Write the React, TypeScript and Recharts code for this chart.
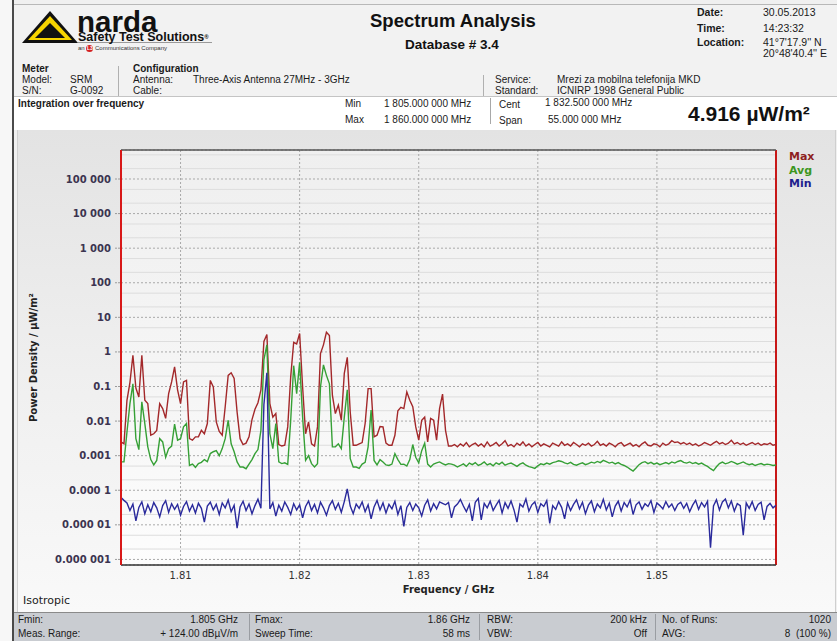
import React from 'react';
import { LineChart, Line, XAxis, YAxis, CartesianGrid, ReferenceLine, Label } from 'recharts';

// Sweep grid (GHz)
const FREQ_START = 1.805;
const FREQ_STEP = 0.00025;

// Power density, µW/m²
const maxValues = [
  0.0025, 0.0022, 0.04, 0.13, 0.8, 0.09, 0.05, 0.8, 0.04, 0.032,
  0.0039, 0.0043, 0.0054, 0.032, 0.023, 0.012, 0.062, 0.136, 0.37, 0.08,
  0.032, 0.136, 0.15, 0.0031, 0.0028, 0.0035, 0.0035, 0.0054, 0.0043, 0.0085,
  0.15, 0.097, 0.0095, 0.005, 0.0039, 0.026, 0.21, 0.25, 0.17, 0.018,
  0.0031, 0.0021, 0.0023, 0.0035, 0.011, 0.022, 0.034, 0.08, 2.0, 3.2,
  0.032, 0.013, 0.0165, 0.0021, 0.0019, 0.002, 0.0068, 0.19, 1.9, 1.7,
  3.4, 0.097, 0.0043, 0.0095, 0.0022, 0.0019, 0.0068, 0.9, 1.6, 3.7,
  3.0, 0.056, 0.0165, 0.029, 0.0106, 0.24, 0.7, 0.018, 0.002, 0.002,
  0.0022, 0.0024, 0.0085, 0.087, 0.087, 0.0035, 0.0039, 0.007, 0.0068, 0.0023,
  0.002, 0.002, 0.0039, 0.02, 0.025, 0.023, 0.07, 0.04, 0.026, 0.0068,
  0.0028, 0.0106, 0.013, 0.0025, 0.012, 0.0106, 0.0028, 0.023, 0.06, 0.0054,
  0.0019,
  0.0019, 0.0021, 0.0018, 0.0022, 0.0019, 0.0024, 0.0018, 0.0021, 0.0023, 0.0019,
  0.0022, 0.0018, 0.0025, 0.0019, 0.0021, 0.0024, 0.0019, 0.0022, 0.0027, 0.0019,
  0.0021, 0.0018, 0.0023, 0.0020, 0.0025, 0.0019, 0.0022, 0.0018, 0.0021, 0.0024,
  0.0019, 0.0022, 0.0020, 0.0018, 0.0023, 0.0021, 0.0019, 0.0025, 0.0020, 0.0022,
  0.0019, 0.0024, 0.0021, 0.0018, 0.0022, 0.0020, 0.0023, 0.0019, 0.0021, 0.0026,
  0.0020, 0.0022, 0.0019, 0.0023, 0.0021, 0.0018, 0.0022, 0.0024, 0.0019, 0.0021,
  0.0023, 0.0019, 0.0021, 0.0018, 0.0022, 0.0025, 0.0020, 0.0019, 0.0022, 0.0021,
  0.0018, 0.0023, 0.0020, 0.0022, 0.0027, 0.0024, 0.0025, 0.0022, 0.0024, 0.0021,
  0.0023, 0.0020, 0.0022, 0.0019, 0.0021, 0.0024, 0.0022, 0.0020, 0.0023, 0.0026,
  0.0022, 0.0024, 0.0021, 0.0023, 0.0028, 0.0022, 0.0024, 0.0021, 0.0023, 0.0020,
  0.0022, 0.0024, 0.0021, 0.0023, 0.0020, 0.0022, 0.0021, 0.0023, 0.0020, 0.0021,
];

const avgValues = [
  0.00066, 0.00066, 0.0048, 0.032, 0.12, 0.0031, 0.0015, 0.036, 0.0085, 0.0018,
  0.00077, 0.00054, 0.00073, 0.0031, 0.0025, 0.0009, 0.0016, 0.0019, 0.0082, 0.0028,
  0.0031, 0.0068, 0.0085, 0.00052, 0.00057, 0.00046, 0.00059, 0.00064, 0.00077, 0.00067,
  0.00115, 0.0013, 0.0014, 0.001, 0.0016, 0.0031, 0.0106, 0.0022, 0.0013, 0.00066,
  0.00047, 0.00047, 0.00042, 0.00057, 0.00077, 0.00115, 0.0015, 0.0054, 0.6, 1.6,
  0.0043, 0.0016, 0.0085, 0.00066, 0.00059, 0.00062, 0.00056, 0.0106, 0.4, 0.062,
  0.5, 0.013, 0.00073, 0.001, 0.00059, 0.00047, 0.00059, 0.097, 0.42, 0.21,
  0.12, 0.0018, 0.0018, 0.0022, 0.0016, 0.013, 0.08, 0.00082, 0.00047, 0.00047,
  0.00043, 0.00057, 0.00064, 0.0018, 0.021, 0.00073, 0.00054, 0.00077, 0.00066, 0.00054,
  0.00052, 0.00057, 0.00115, 0.00077, 0.00056, 0.00057, 0.0005, 0.00077, 0.0021, 0.0009,
  0.00062, 0.0014, 0.0023, 0.00057, 0.00047, 0.00057, 0.00062, 0.00066, 0.00059, 0.00054,
  0.00059, 0.00057, 0.00053, 0.00047,
  0.00052, 0.00058, 0.00049, 0.00061, 0.00055, 0.00063, 0.00052, 0.00057, 0.00066, 0.00054,
  0.00059, 0.00051, 0.00062, 0.00056, 0.00065, 0.00053, 0.00058, 0.00061, 0.00055, 0.00049,
  0.00057, 0.00062, 0.00053, 0.00048, 0.00046, 0.00043, 0.00051, 0.00058, 0.00055, 0.00061,
  0.00057, 0.00063, 0.00066, 0.00071, 0.00068, 0.00062, 0.00058, 0.00064, 0.00056, 0.00053,
  0.00058, 0.00062, 0.00055, 0.00059, 0.00065, 0.00061, 0.00068, 0.00063, 0.00073, 0.00067,
  0.00061, 0.00065, 0.00058, 0.00063, 0.00056, 0.00052, 0.00047, 0.00041, 0.00036, 0.00044,
  0.00055, 0.00063, 0.00067, 0.00059, 0.00064, 0.00057, 0.00061, 0.00055, 0.00059, 0.00063,
  0.00058, 0.00066, 0.00061, 0.00068, 0.00072, 0.00064, 0.00061, 0.00066, 0.00059, 0.00063,
  0.00057, 0.00061, 0.00054, 0.00049, 0.00042, 0.00037, 0.00048, 0.00059, 0.00065, 0.00058,
  0.00062, 0.00068, 0.00063, 0.00057, 0.00061, 0.00066, 0.00059, 0.00055, 0.00058, 0.00052,
  0.00056, 0.00059, 0.00054, 0.00057, 0.00055, 0.00052, 0.00054,
];

const minValues = [
  6.2e-5, 5.1e-5, 4.3e-5, 2.6e-5, 4.0e-5, 1.3e-5, 3.2e-5, 4.6e-5, 2.1e-5, 3.8e-5,
  2.4e-5, 4.4e-5, 3.1e-5, 1.7e-5, 3.6e-5, 5.0e-5, 2.3e-5, 4.1e-5, 2.8e-5, 3.9e-5,
  1.9e-5, 3.4e-5, 4.7e-5, 2.5e-5, 3.8e-5, 2.2e-5, 4.2e-5, 3.0e-5, 1.2e-5, 3.5e-5,
  4.5e-5, 2.7e-5, 3.9e-5, 2.0e-5, 4.3e-5, 3.1e-5, 5.2e-5, 2.4e-5, 3.7e-5, 8.0e-6,
  3.3e-5, 4.8e-5, 2.6e-5, 4.0e-5, 2.1e-5, 3.6e-5, 5.5e-5, 3.0e-5, 0.03, 0.25,
  2.9e-5, 4.4e-5, 1.8e-5, 3.7e-5, 2.5e-5, 4.6e-5, 3.2e-5, 2.0e-5, 4.1e-5, 2.7e-5,
  3.8e-5, 1.6e-5, 3.4e-5, 4.9e-5, 2.6e-5, 3.9e-5, 2.2e-5, 4.5e-5, 3.1e-5, 1.9e-5,
  3.6e-5, 5.0e-5, 2.8e-5, 4.2e-5, 2.3e-5, 4.7e-5, 1.1e-4, 3.5e-5, 2.1e-5, 4.0e-5,
  3.0e-5, 4.6e-5, 2.4e-5, 3.8e-5, 1.5e-5, 3.3e-5, 5.1e-5, 2.7e-5, 4.3e-5, 2.2e-5,
  3.9e-5, 2.9e-5, 4.8e-5, 2.0e-5, 3.6e-5, 9.0e-6, 3.2e-5, 4.4e-5, 2.6e-5, 4.0e-5,
  3.1e-5, 1.8e-5, 3.7e-5, 5.3e-5, 2.5e-5, 4.1e-5, 2.9e-5, 4.6e-5, 4.2e-5, 3.8e-5,
  4.4e-5, 1.6e-5, 3.3e-5, 4.0e-5, 5.4e-5, 3.5e-5, 2.4e-5, 3.9e-5, 1.3e-5, 4.5e-5,
  5.8e-5, 1.4e-5, 4.2e-5, 3.1e-5, 4.8e-5, 2.6e-5, 3.7e-5, 5.1e-5, 2.2e-5, 4.4e-5,
  3.0e-5, 4.9e-5, 2.7e-5, 1.2e-5, 4.0e-5, 3.3e-5, 5.6e-5, 2.5e-5, 3.8e-5, 4.6e-5,
  2.3e-5, 4.1e-5, 3.4e-5, 5.0e-5, 1.1e-5, 3.6e-5, 2.8e-5, 4.7e-5, 3.2e-5, 1.5e-5,
  4.3e-5, 2.6e-5, 3.9e-5, 5.3e-5, 2.9e-5, 4.5e-5, 2.1e-5, 3.7e-5, 4.9e-5, 2.4e-5,
  4.0e-5, 3.1e-5, 5.5e-5, 2.7e-5, 4.2e-5, 1.7e-5, 3.5e-5, 4.8e-5, 2.5e-5, 4.4e-5,
  3.3e-5, 5.2e-5, 2.0e-5, 3.8e-5, 4.6e-5, 2.8e-5, 4.1e-5, 3.4e-5, 5.0e-5, 2.3e-5,
  4.3e-5, 3.6e-5, 2.9e-5, 4.7e-5, 3.2e-5, 4.0e-5, 2.6e-5, 3.9e-5, 4.5e-5, 3.0e-5,
  4.2e-5, 2.4e-5, 3.7e-5, 5.1e-5, 2.8e-5, 4.4e-5, 3.3e-5, 4.8e-5, 2.2e-6, 3.5e-5,
  5.3e-5, 2.7e-5, 4.6e-5, 5.6e-5, 3.1e-5, 4.9e-5, 2.5e-5, 4.1e-5, 3.6e-5, 5.0e-6,
  4.3e-5, 3.0e-5, 4.7e-5, 2.6e-5, 3.9e-5, 4.5e-5, 1.4e-5, 3.4e-5, 4.2e-5, 3.1e-5,
  3.7e-5,
];

const xTicks = [1.81, 1.82, 1.83, 1.84, 1.85];
const xTickLabels = ['1.81', '1.82', '1.83', '1.84', '1.85'];
const yTicks = [1e5, 1e4, 1e3, 100, 10, 1, 0.1, 0.01, 0.001, 1e-4, 1e-5, 1e-6];
const yTickLabels = ['100 000', '10 000', '1 000', '100', '10', '1', '0.1', '0.01', '0.001', '0.000 1', '0.000 01', '0.000 001'];
const yMinorTicks = [
  5e5, 2e5, 5e4, 2e4, 5e3, 2e3, 500, 200, 50, 20, 5, 2, 0.5, 0.2, 0.05, 0.02,
  0.005, 0.002, 5e-4, 2e-4, 5e-5, 2e-5, 5e-6, 2e-6,
];
const X_DOMAIN = [1.805, 1.86];
const Y_DOMAIN = [6.9e-7, 6.9e5];

const seriesNames = ['Max', 'Avg', 'Min'];
const seriesKeys = ['max', 'avg', 'min'];
const seriesColors = ['#a3282a', '#36a036', '#2a2a9c'];
const legendColors = ['#8e1f1f', '#3c961e', '#1e1e8e'];

const data = maxValues.map((v, i) => ({
  f: +(FREQ_START + FREQ_STEP * i).toFixed(5),
  max: v,
  avg: avgValues[i],
  min: minValues[i],
}));

const SANS = '"Liberation Sans", Arial, sans-serif';
const VERD = '"DejaVu Sans", Verdana, sans-serif';

type TP = { x: number; y: number; s?: number; b?: boolean; c?: string; right?: boolean; f?: string; lh?: number; children: React.ReactNode };
const T = ({ x, y, s = 10, b = false, c = '#1a1a1a', right = false, f = SANS, lh, children }: TP) => {
  const h = lh ?? s;
  return (
    <div
      style={{
        position: 'absolute',
        top: y - h * 0.5,
        ...(right ? { right: 837 - x } : { left: x }),
        fontSize: s,
        lineHeight: `${h}px`,
        height: h,
        fontWeight: b ? 'bold' : 'normal',
        color: c,
        fontFamily: f,
        whiteSpace: 'nowrap',
      }}
    >
      {children}
    </div>
  );
};

const VLine = ({ x, y1, y2, c = '#aaa' }: { x: number; y1: number; y2: number; c?: string }) => (
  <div style={{ position: 'absolute', left: x, top: y1, width: 1, height: y2 - y1, background: c }} />
);

export default function App() {
  return (
    <div style={{ position: 'fixed', left: 0, top: 0, width: 837, height: 641, background: '#f0f0f0', overflow: 'hidden', fontFamily: SANS }}>
      {/* left window strip */}
      <div style={{ position: 'absolute', left: 0, top: 0, width: 12, height: 641, background: '#f7f7f7' }} />
      <div style={{ position: 'absolute', left: 12, top: 0, width: 2, height: 641, background: '#4a4a4a' }} />

      {/* header */}
      <div style={{ position: 'absolute', left: 14, top: 4, width: 823, height: 92, background: '#f2f2f2', borderTop: '1px solid #b8b8b8' }} />
      <svg style={{ position: 'absolute', left: 20, top: 10 }} width={195} height={36}>
        <polygon points="30,1 58,33 2,33" fill="#111" />
        <polygon points="30,6 52,30 8,30" fill="#f6d300" />
        <polygon points="30,13 45,28 15,28" fill="#111" />
        <line x1={58} y1={32.5} x2={192} y2={32.5} stroke="#9a9a9a" strokeWidth={1} />
      </svg>
      <T x={77} y={21.5} s={29.5} lh={20} b c="#111">narda</T>
      <T x={78} y={36.7} s={12.5} lh={10} b c="#111">Safety Test Solutions<span style={{ fontSize: 6, verticalAlign: 'top' }}>®</span></T>
      <div style={{ position: 'absolute', left: 78, top: 45, height: 7, fontSize: 6, lineHeight: '7px', fontFamily: SANS, color: '#333', whiteSpace: 'nowrap', display: 'flex', alignItems: 'center' }}>
        an&nbsp;<span style={{ display: 'inline-block', width: 7, height: 7, borderRadius: 4, background: '#d42020', color: '#fff', fontSize: 5, lineHeight: '7px', textAlign: 'center', fontWeight: 'bold' }}>L3</span>&nbsp;Communications Company
      </div>

      <T x={370} y={21} s={18.5} b c="#111">Spectrum Analysis</T>
      <T x={405} y={45} s={13.5} b c="#111">Database # 3.4</T>

      <T x={697} y={12} s={10.5} b>Date:</T>
      <T x={763} y={12} s={10.5}>30.05.2013</T>
      <T x={697} y={28} s={10.5} b>Time:</T>
      <T x={763} y={28} s={10.5}>14:23:32</T>
      <T x={697} y={42} s={10.5} b>Location:</T>
      <T x={763} y={42} s={10.5}>41°7'17.9'' N</T>
      <T x={763} y={53} s={10.5}>20°48'40.4'' E</T>

      <T x={22} y={69} s={10} b>Meter</T>
      <T x={22} y={80} s={10}>Model:</T>
      <T x={70} y={80} s={10}>SRM</T>
      <T x={22} y={91} s={10}>S/N:</T>
      <T x={70} y={91} s={10}>G-0092</T>
      <VLine x={118} y1={66} y2={96} c="#b0b0b0" />
      <T x={133} y={69} s={10} b>Configuration</T>
      <T x={133} y={80} s={10}>Antenna:</T>
      <T x={193} y={80} s={10}>Three-Axis Antenna 27MHz - 3GHz</T>
      <T x={133} y={91} s={10}>Cable:</T>
      <VLine x={483} y1={75} y2={96} c="#b0b0b0" />
      <T x={495} y={80} s={10}>Service:</T>
      <T x={557} y={80} s={10}>Mrezi za mobilna telefonija MKD</T>
      <T x={495} y={91} s={10}>Standard:</T>
      <T x={557} y={91} s={10}>ICNIRP 1998 General Public</T>

      {/* integration row */}
      <div style={{ position: 'absolute', left: 14, top: 96, width: 823, height: 33, background: '#ffffff', borderTop: '1px solid #c4c4c4' }} />
      <T x={18} y={104} s={10} b>Integration over frequency</T>
      <T x={345} y={104} s={10}>Min</T>
      <T x={384} y={104} s={10}>1 805.000 000 MHz</T>
      <T x={345} y={120} s={10}>Max</T>
      <T x={384} y={120} s={10}>1 860.000 000 MHz</T>
      <VLine x={490} y1={98} y2={124} c="#a8a8a8" />
      <T x={499} y={105} s={10}>Cent</T>
      <T x={545} y={103} s={10}>1 832.500 000 MHz</T>
      <T x={499} y={121} s={10}>Span</T>
      <T x={548} y={120} s={10}>55.000 000 MHz</T>
      <T x={688} y={113} s={21} b c="#111">4.916 µW/m²</T>

      {/* chart panel */}
      <div style={{ position: 'absolute', left: 17, top: 130, width: 817, height: 482, background: 'linear-gradient(180deg, #e3e3e3 0%, #efefef 50%, #f9f9f9 100%)', borderLeft: '1px solid #d0d0d0', borderRight: '1px solid #cfcfcf' }} />
      <div style={{ position: 'absolute', left: 17, top: 130 }}>
        <LineChart width={818} height={482} data={data} margin={{ top: 20, right: 59, bottom: 17, left: 14 }}>
          <defs>
            <linearGradient id="plotBg" x1="0" y1="0" x2="0" y2="1">
              <stop offset="0%" stopColor="#efefef" />
              <stop offset="60%" stopColor="#f6f6f6" />
              <stop offset="100%" stopColor="#fdfdfd" />
            </linearGradient>
          </defs>
          <CartesianGrid horizontalValues={yMinorTicks} vertical={false} stroke="#dddddd" fill="url(#plotBg)" />
          <CartesianGrid strokeDasharray="2 2" stroke="#a9a9a9" />
          <XAxis
            dataKey="f"
            type="number"
            domain={X_DOMAIN}
            ticks={xTicks}
            allowDataOverflow
            tickLine={false}
            height={30}
            tickSize={4}
            tickMargin={3}
            axisLine={{ stroke: '#333', strokeWidth: 1.5 }}
            tickFormatter={(v: number) => xTickLabels[xTicks.indexOf(v)]}
            tick={{ fill: '#333', fontSize: 10, fontFamily: VERD }}
          >
            <Label value="Frequency / GHz" position="insideBottom" offset={2} style={{ fill: '#222', fontSize: 10, fontWeight: 'bold', fontFamily: VERD }} />
          </XAxis>
          <YAxis
            scale="log"
            domain={Y_DOMAIN}
            ticks={yTicks}
            allowDataOverflow
            width={90}
            tickSize={6}
            tickMargin={4}
            tickLine={{ stroke: '#9a9a9a', strokeDasharray: '2 1' }}
            axisLine={{ stroke: '#d81818', strokeWidth: 2 }}
            tickFormatter={(v: number) => yTickLabels[yTicks.indexOf(v)]}
            tick={{ fill: '#3c3450', fontSize: 10, fontFamily: VERD, fontWeight: 'bold' }}
          >
            <Label value="Power Density / µW/m²" angle={-90} position="insideLeft" offset={0} dx={2} style={{ fill: '#222', fontSize: 10, fontWeight: 'bold', fontFamily: VERD, textAnchor: 'middle' }} />
          </YAxis>
          <ReferenceLine x={X_DOMAIN[1]} stroke="#c81818" strokeWidth={2} />
          <ReferenceLine y={Y_DOMAIN[1]} stroke="#555" strokeWidth={1.5} />
          {seriesKeys.map((k, i) => (
            <Line
              key={k}
              dataKey={k}
              name={seriesNames[i]}
              stroke={seriesColors[i]}
              strokeWidth={1.4}
              dot={false}
              type="linear"
              isAnimationActive={false}
            />
          ))}
        </LineChart>
      </div>
      {/* legend */}
      <div style={{ position: 'absolute', left: 789, top: 150 }}>
        {seriesNames.map((n, i) => (
          <div key={n} style={{ color: legendColors[i], fontSize: 11, fontWeight: 'bold', fontFamily: VERD, lineHeight: '13.5px', height: 13.5 }}>{n}</div>
        ))}
      </div>
      <T x={23} y={600} s={11} f={VERD} c="#222">Isotropic</T>

      {/* bottom status bar */}
      <div style={{ position: 'absolute', left: 14, top: 612, width: 823, height: 29, background: '#c9ccd1', borderTop: '1px solid #8a8a8a' }} />
      <T x={18} y={620} s={10}>Fmin:</T>
      <T x={238} y={620} s={10} right>1.805 GHz</T>
      <VLine x={249} y1={614} y2={640} c="#9a9da2" />
      <T x={255} y={620} s={10}>Fmax:</T>
      <T x={470} y={620} s={10} right>1.86 GHz</T>
      <VLine x={479} y1={614} y2={640} c="#9a9da2" />
      <T x={487} y={620} s={10}>RBW:</T>
      <T x={647} y={620} s={10} right>200 kHz</T>
      <VLine x={655} y1={614} y2={640} c="#9a9da2" />
      <T x={662} y={620} s={10}>No. of Runs:</T>
      <T x={831} y={620} s={10} right>1020</T>
      <T x={18} y={634} s={10}>Meas. Range:</T>
      <T x={238} y={634} s={10} right>+ 124.00 dBµV/m</T>
      <T x={255} y={634} s={10}>Sweep Time:</T>
      <T x={470} y={634} s={10} right>58 ms</T>
      <T x={487} y={634} s={10}>VBW:</T>
      <T x={647} y={634} s={10} right>Off</T>
      <T x={662} y={634} s={10}>AVG:</T>
      <T x={831} y={634} s={10} right>8&nbsp;&nbsp;(100 %)</T>
    </div>
  );
}
